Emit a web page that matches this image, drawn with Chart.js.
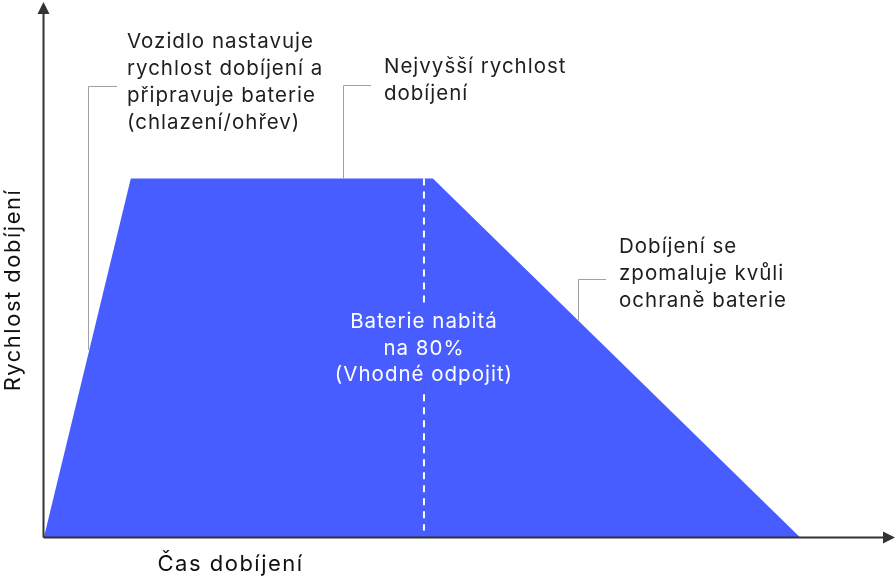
<!DOCTYPE html>
<html>
<head>
<meta charset="utf-8">
<script src="https://cdn.jsdelivr.net/npm/chart.js@4"></script>
<style>
  html, body { margin: 0; padding: 0; background: #fff; }
  #wrap { width: 896px; height: 580px; }
</style>
</head>
<body>
<div id="wrap"><canvas id="chargeChart"></canvas></div>
<script>
// Charging curve (relative units: time 0-100, speed 0-100)
const timePoints = [0, 10.2, 45.7, 88.8];
const speedPoints = [0, 67, 67, 0];
const fullAt80 = 44.65;

const xTitle = "Čas dobíjení";
const yTitle = "Rychlost dobíjení";

// callouts: text lines, anchor (left x, first line y), leader corner / ends
const calloutLines = [
  ["Vozidlo nastavuje", "rychlost dobíjení a", "připravuje baterie", "(chlazení/ohřev)"],
  ["Nejvyšší rychlost", "dobíjení"],
  ["Dobíjení se", "zpomaluje kvůli", "ochraně baterie"],
];
const calloutAnchors = [[9.75, 92.5], [39.95, 87.85], [67.57, 54.2]];
const leaderCorners = [[5.17, 84.3], [35.1, 84.5], [62.75, 48.2]];
const leaderEndsX = [8.58, 38.4, 66.0];
const leaderEndsY = [35, 67, 40.5];

const centerLines = ["Baterie nabitá", "na 80%", "(Vhodné odpojit)"];
const centerAnchor = [44.65, 40.2];
const dashSegments = [[67, 43], [26.7, 1.2]];

const FONT = "Inter, 'Open Sans', sans-serif";

const overlay = {
  id: "overlay",
  afterDatasetsDraw(chart) {
    const ctx = chart.ctx;
    const xs = chart.scales.x;
    const ys = chart.scales.y;
    const px = (v) => xs.getPixelForValue(v);
    const py = (v) => ys.getPixelForValue(v);
    ctx.save();

    // dashed 80% marker
    ctx.strokeStyle = "#ffffff";
    ctx.lineWidth = 2;
    ctx.setLineDash([7, 6]);
    dashSegments.forEach(([a, b]) => {
      ctx.beginPath();
      ctx.moveTo(px(fullAt80), py(a));
      ctx.lineTo(px(fullAt80), py(b));
      ctx.stroke();
    });
    ctx.setLineDash([]);

    // center label
    ctx.fillStyle = "#ffffff";
    ctx.font = "20.5px " + FONT;
    ctx.letterSpacing = "1px";
    ctx.textAlign = "center";
    ctx.textBaseline = "middle";
    centerLines.forEach((t, i) => {
      ctx.fillText(t, px(centerAnchor[0]), py(centerAnchor[1]) + i * 26.5);
    });

    // leader lines
    ctx.strokeStyle = "#a0a0a0";
    ctx.lineWidth = 1;
    leaderCorners.forEach(([cx, cy], i) => {
      ctx.beginPath();
      ctx.moveTo(Math.round(px(leaderEndsX[i])), Math.round(py(cy)) + 0.5);
      ctx.lineTo(Math.round(px(cx)) + 0.5, Math.round(py(cy)) + 0.5);
      ctx.lineTo(Math.round(px(cx)) + 0.5, py(leaderEndsY[i]));
      ctx.stroke();
    });

    // callout texts
    ctx.fillStyle = "#1e1e1e";
    ctx.textAlign = "left";
    calloutLines.forEach((lines, i) => {
      lines.forEach((t, j) => {
        ctx.fillText(t, px(calloutAnchors[i][0]), py(calloutAnchors[i][1]) + j * 26.8);
      });
    });

    // axes with arrows
    const x0 = Math.round(px(0)) - 0.5;
    const y0 = Math.round(py(0)) + 0.5;
    const xEnd = px(100);
    const yEnd = py(100);
    ctx.strokeStyle = "#333333";
    ctx.fillStyle = "#333333";
    ctx.lineWidth = 2;
    ctx.beginPath();
    ctx.moveTo(x0, y0);
    ctx.lineTo(x0, yEnd + 10);
    ctx.moveTo(x0, y0);
    ctx.lineTo(xEnd - 10, y0);
    ctx.stroke();
    ctx.beginPath();
    ctx.moveTo(x0, yEnd);
    ctx.lineTo(x0 - 6, yEnd + 12);
    ctx.lineTo(x0 + 6, yEnd + 12);
    ctx.closePath();
    ctx.fill();
    ctx.beginPath();
    ctx.moveTo(xEnd, y0);
    ctx.lineTo(xEnd - 12, y0 - 6);
    ctx.lineTo(xEnd - 12, y0 + 6);
    ctx.closePath();
    ctx.fill();

    // axis titles
    ctx.fillStyle = "#111111";
    ctx.font = "22px " + FONT;
    ctx.letterSpacing = "1.5px";
    ctx.textAlign = "left";
    ctx.fillText(xTitle, x0 + 114, y0 + 27);
    ctx.translate(13, 290);
    ctx.rotate(-Math.PI / 2);
    ctx.textAlign = "center";
    ctx.fillText(yTitle, 0, 0);
    ctx.restore();
  },
};

new Chart(document.getElementById("chargeChart"), {
  type: "line",
  data: {
    datasets: [
      {
        data: timePoints.map((t, i) => ({ x: t, y: speedPoints[i] })),
        backgroundColor: "#475dff",
        borderColor: "#475dff",
        borderWidth: 0,
        pointRadius: 0,
        fill: "origin",
        tension: 0,
      },
    ],
  },
  options: {
    responsive: true,
    maintainAspectRatio: false,
    animation: false,
    layout: { padding: { left: 44, right: 1, top: 2, bottom: 43 } },
    plugins: { legend: { display: false }, tooltip: { enabled: false } },
    scales: {
      x: { type: "linear", min: 0, max: 100, display: false },
      y: { min: 0, max: 100, display: false },
    },
  },
  plugins: [overlay],
});
</script>
</body>
</html>
